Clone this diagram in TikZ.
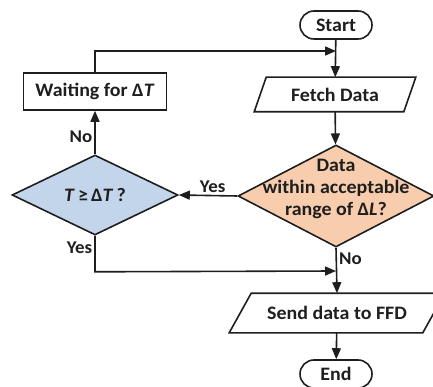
\documentclass[tikz,border=0pt]{standalone}
\usepackage{fontspec}
\setmainfont{Carlito}[FakeStretch=1.05]
\usetikzlibrary{shapes.geometric,shapes.misc,arrows.meta}
\definecolor{ink}{HTML}{1E1E1E}
\definecolor{peach}{HTML}{F7CDAE}
\definecolor{paleblue}{HTML}{C3D5EA}
\tikzset{
  base/.style={draw=ink, line width=1.6pt, text=ink, font=\fontsize{19}{22}\selectfont\bfseries, inner sep=0pt},
  term/.style={base, rounded rectangle, minimum width=72pt, minimum height=28pt},
  procbox/.style={base, rectangle, minimum width=143pt, minimum height=37pt},
  iobody/.style={base, draw=none, rectangle},
  decide/.style={base, diamond, aspect=2},
  txt/.style={text=ink, font=\fontsize{19}{22}\selectfont\bfseries, inner sep=0pt, align=center},
  lbl/.style={text=ink, font=\fontsize{18}{20}\selectfont\bfseries, inner sep=2pt},
  arr/.style={draw=ink, line width=1.6pt, -{Triangle[length=11pt,width=9pt]}},
  ln/.style={draw=ink, line width=1.6pt, line join=miter}
}
\begin{document}
\begin{tikzpicture}[x=1pt,y=-1pt]
\useasboundingbox (0,0) rectangle (433,387);
\node[term] (start) at (336,25) {Start};
\node[iobody, minimum width=148pt, minimum height=33pt] (fetch) at (335,94.5) {Fetch Data};
\draw[ln] ([xshift=-6pt]fetch.south west) -- ([xshift=6pt]fetch.north west) -- ([xshift=6pt]fetch.north east) -- ([xshift=-6pt]fetch.south east) -- cycle;
\node[decide, fill=peach, minimum width=196pt, minimum height=102pt] (od) at (336,196) {};
\node[txt] (odt) at (336,189) {Data\\within acceptable\\range of Δ\textit{L}?};
\node[decide, fill=paleblue, minimum width=166pt, minimum height=80pt] (bd) at (95,195) {\textit{T}\,≥\,Δ\textit{T}\,?};
\node[procbox] (wait) at (95,91.5) {Waiting for Δ\textit{T}};
\node[iobody, minimum width=192pt, minimum height=38pt] (send) at (337,313) {Send data to FFD};
\draw[ln] ([xshift=-11pt]send.south west) -- ([xshift=11pt]send.north west) -- ([xshift=11pt]send.north east) -- ([xshift=-11pt]send.south east) -- cycle;
\node[term] (end) at (336,374) {End};
\coordinate (j1) at (336,51);
\coordinate (j2) at (336,271);
\draw[arr] (start) -- (fetch);
\draw[arr] (wait.north) |- (j1);
\draw[arr] (fetch) -- (od);
\draw[arr] (od.west) -- node[lbl, above, pos=0.42] {Yes} (bd.east);
\draw[arr] (bd.north) -- node[lbl, left, pos=0.4] {No} (wait.south);
\draw[arr] (bd.south) -- node[lbl, left, pos=0.33] {Yes} ++(0,36) -- (j2);
\draw[arr] (od.south) -- node[lbl, right, pos=0.25] {No} (send.north);
\draw[arr] (send) -- (end);
\end{tikzpicture}
\end{document}
